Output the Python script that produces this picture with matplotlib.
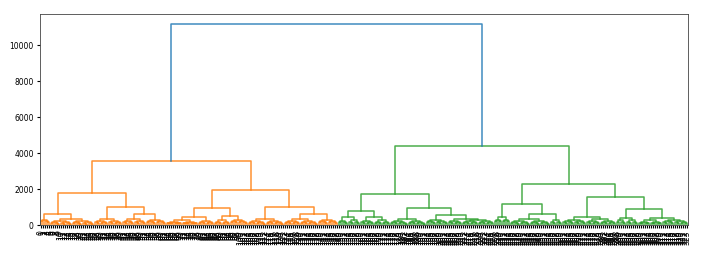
import matplotlib
matplotlib.use("Agg")
import matplotlib.pyplot as plt

# ---- data ----
# bottom-level leaf groups, left to right: number of leaves and merge height
group_sizes = [5, 22, 14, 12, 10, 16, 8, 8, 9, 18, 17, 10,
               5, 6, 7, 8, 18, 11, 7, 16, 8, 20, 6, 12, 15, 11, 12, 13]
group_heights = [280, 350, 330, 320, 300, 250, 200, 250, 300, 330, 320, 280,
                 200, 250, 220, 260, 320, 300, 200, 280, 430, 330, 250, 300,
                 320, 370, 250, 280]
# upper merges (linkage style: ids 0..27 are groups, 28.. are merges)
merge_left = [0, 3, 2, 28, 5, 7, 32, 10, 9, 34, 31,
              12, 14, 39, 18, 17, 16, 41, 21, 20, 23, 26, 25, 48, 47, 45, 38]
merge_right = [1, 4, 29, 30, 6, 8, 33, 11, 35, 36, 37,
               13, 15, 40, 19, 42, 43, 44, 22, 46, 24, 27, 49, 50, 51, 52, 53]
merge_height = [610, 610, 1020, 1800, 430, 500, 960, 610, 1020, 1950, 3560,
                420, 440, 800, 350, 555, 930, 1725, 595, 1150, 460, 400, 870,
                1540, 2280, 4360, 11150]
# relative heights of the nested merges inside each leaf group
sub_fractions = [0.7, 0.5, 0.34, 0.22, 0.12, 0.06, 0.03]

n_leaves = sum(group_sizes)
leaf_labels = [str(i) for i in range(n_leaves)]

# ---- build tree ----
n_groups = len(group_sizes)
color_threshold = 0.7 * max(merge_height)
palette = ["C1", "C2", "C3", "C4", "C5"]

fig = plt.figure(figsize=(7.01, 2.55), dpi=100)
ax = fig.add_axes([40 / 701, 1 - 226 / 255, 648 / 701, 211 / 255])

state = {"leaf": 0, "color": 0}
segments = []
group_h_root = [0]
group_color = [None]


def draw_group(n, h, depth):
    if n == 1:
        x = 5 + 10 * state["leaf"]
        state["leaf"] += 1
        return x, 0.0
    k = n // 2
    ch = group_h_root[0] * sub_fractions[min(depth, len(sub_fractions) - 1)]
    xl, hl = draw_group(k, ch, depth + 1)
    xr, hr = draw_group(n - k, ch, depth + 1)
    segments.append(([xl, xl, xr, xr], [hl, h, h, hr], group_color[0]))
    return (xl + xr) / 2, h


def draw_node(node, color):
    if node < n_groups:
        if color is None:
            color = palette[state["color"]]
            state["color"] += 1
        group_h_root[0] = group_heights[node]
        group_color[0] = color
        return draw_group(group_sizes[node], group_heights[node], 0)
    j = node - n_groups
    h = merge_height[j]
    if h > color_threshold:
        link_color = "C0"
        child_color = None
    else:
        if color is None:
            color = palette[state["color"]]
            state["color"] += 1
        link_color = color
        child_color = color
    xl, hl = draw_node(merge_left[j], child_color)
    xr, hr = draw_node(merge_right[j], child_color)
    segments.append(([xl, xl, xr, xr], [hl, h, h, hr], link_color))
    return (xl + xr) / 2, h


root = n_groups + len(merge_height) - 1
draw_node(root, None)

for xs, ys, c in segments:
    ax.plot(xs, ys, color=c, linewidth=1.1, alpha=0.85)

ax.set_xlim(0, 10 * n_leaves)
ax.set_ylim(0, max(merge_height) * 1.05)
ax.set_xticks([5 + 10 * i for i in range(n_leaves)])
ax.set_xticklabels(leaf_labels, rotation=90)
ax.tick_params(axis="x", labelsize=5.5, length=2, pad=1)
ax.set_yticks([0, 2000, 4000, 6000, 8000, 10000])
ax.tick_params(axis="y", labelsize=5.5, length=2.5, pad=2)
for s in ax.spines.values():
    s.set_linewidth(0.6)
    s.set_color("#444444")

fig.savefig("out.png", dpi=100)
